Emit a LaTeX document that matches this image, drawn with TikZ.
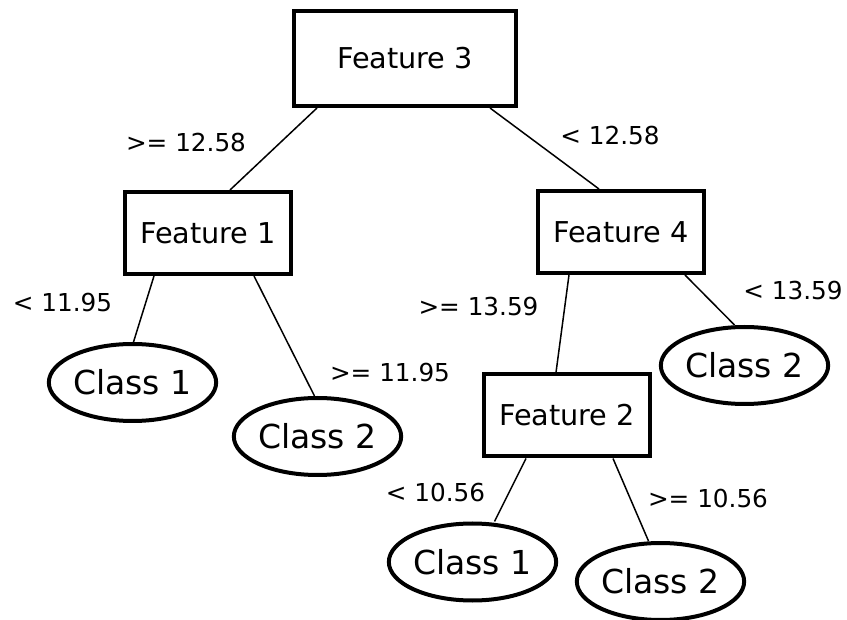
\documentclass[tikz,border=0pt]{standalone}
\usepackage{fontspec}
\setmainfont{DejaVu Sans}
\usetikzlibrary{shapes}

\begin{document}
\begin{tikzpicture}[x=1pt,y=-1pt,line width=1.5pt,
    feat/.style={shape=rectangle,draw=black,line width=4pt,minimum width=166pt,minimum height=82pt,inner sep=0pt,font=\fontsize{28.7}{32}\selectfont},
    leaf/.style={shape=ellipse,draw=black,line width=4pt,minimum width=161pt,minimum height=77pt,inner sep=0pt,font=\fontsize{33}{38}\selectfont},
    cond/.style={inner sep=0pt,font=\fontsize{24.7}{28}\selectfont}]
                \useasboundingbox (0,0) rectangle (847,620);
                \node[feat,minimum width=222pt,minimum height=95pt](f3)at(405, 58.5){Feature 3};
                \node[feat](f1)at(208, 233){Feature 1};
                \node[feat](f4)at(621, 232){Feature 4};
                \node[feat](f2)at(567, 415.5){Feature 2};
                \node[leaf](c1)at(132.5, 382.5){Class 1};
                \node[leaf](c2)at(317.5, 436.5){Class 2};
                \node[leaf](c3)at(744.5, 365.5){Class 2};
                \node[leaf](c4)at(472.5, 562){Class 1};
                \node[leaf](c5)at(660.5, 581.5){Class 2};
                \node[cond](l1)at(186, 142.5){>= 12.58};
                \node[cond](l2)at(610, 136){< 12.58};
                \node[cond](l3)at(62.5, 302.5){< 11.95};
                \node[cond](l4)at(390, 372.5){>= 11.95};
                \node[cond](l5)at(478.5, 306.5){>= 13.59};
                \node[cond](l6)at(793, 291){< 13.59};
                \node[cond](l7)at(435.5, 492.5){< 10.56};
                \node[cond](l8)at(708, 498.5){>= 10.56};
                \path[]([xshift=-88pt]f3.south) edge ([xshift=22pt]f1.north)
                ([xshift=85pt]f3.south) edge ([xshift=-22pt]f4.north)
                ([xshift=-54pt]f1.south) edge ([xshift=1pt]c1.north)
                ([xshift=46pt]f1.south) edge ([xshift=-3pt]c2.north)
                ([xshift=-52pt]f4.south) edge ([xshift=-11pt]f2.north)
                ([xshift=64pt]f4.south) edge ([xshift=-10pt]c3.north)
                ([xshift=-41pt]f2.south) edge ([xshift=22pt]c4.north)
                ([xshift=46pt]f2.south) edge ([xshift=-12pt]c5.north);
            \end{tikzpicture}
\end{document}
